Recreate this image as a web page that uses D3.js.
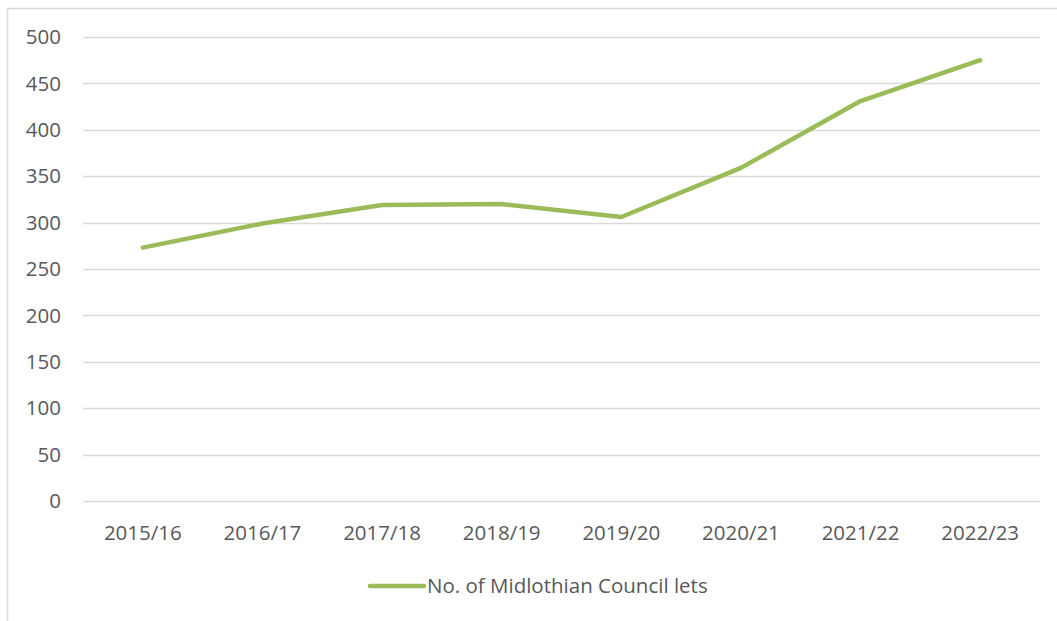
<!DOCTYPE html>
<html>
<head>
<meta charset="utf-8">
<script src="https://cdn.jsdelivr.net/npm/d3@7"></script>
<style>
  body { margin: 0; background: #fff; }
  svg { display: block; font-family: "Open Sans", sans-serif; }
</style>
</head>
<body>
<div id="chart"></div>
<script>
// chart data
const years = ['2015/16', '2016/17', '2017/18', '2018/19', '2019/20', '2020/21', '2021/22', '2022/23']
const lets = [273, 299, 319, 320, 306, 359, 431, 475]
const yTicks = [0, 50, 100, 150, 200, 250, 300, 350, 400, 450, 500]
const seriesName = 'No. of Midlothian Council lets'

const width = 1057, height = 621
const margin = { top: 37, right: 17, bottom: 120, left: 83 }
const fontSize = 20.5

let svg = d3.select('#chart')
    .append('svg')
    .attr('width', width)
    .attr('height', height)

// outer chart border (runs off right/bottom edge)
svg.append('rect')
    .attr('x', 7.5).attr('y', 8.5)
    .attr('width', width + 10).attr('height', height + 10)
    .attr('fill', 'none')
    .attr('stroke', '#d9d9d9')
    .attr('stroke-width', 1.5)

let x = d3.scaleBand()
    .domain(years)
    .range([margin.left, width - margin.right])

let y = d3.scaleLinear()
    .domain([0, 500])
    .range([height - margin.bottom, margin.top])

// gridlines
svg.append('g')
    .selectAll('line')
    .data(yTicks)
    .join('line')
    .attr('x1', margin.left)
    .attr('x2', width - margin.right)
    .attr('y1', d => Math.round(y(d)) + 0.5)
    .attr('y2', d => Math.round(y(d)) + 0.5)
    .attr('stroke', '#d9d9d9')
    .attr('stroke-width', 1.3)

// y axis labels
svg.append('g')
    .selectAll('text')
    .data(yTicks)
    .join('text')
    .attr('x', 61)
    .attr('y', d => y(d))
    .attr('dy', '0.35em')
    .attr('text-anchor', 'end')
    .attr('fill', '#595959')
    .attr('font-size', fontSize)
    .text(d => d)

// x axis labels
svg.append('g')
    .selectAll('text')
    .data(years)
    .join('text')
    .attr('x', d => x(d) + x.bandwidth() / 2)
    .attr('y', height - margin.bottom + 39)
    .attr('text-anchor', 'middle')
    .attr('fill', '#595959')
    .attr('font-size', fontSize)
    .text(d => d)

let line = d3.line()
    .x((d, i) => x(years[i]) + x.bandwidth() / 2)
    .y(d => y(d))

svg.append('path')
    .datum(lets)
    .attr('d', line)
    .attr('fill', 'none')
    .attr('stroke', '#9bbb59')
    .attr('stroke-width', 4.5)
    .attr('stroke-linecap', 'round')
    .attr('stroke-linejoin', 'round')

// legend
let legend = svg.append('g').attr('transform', 'translate(370, 586)')
legend.append('line')
    .attr('x1', 0).attr('x2', 54)
    .attr('stroke', '#9bbb59')
    .attr('stroke-width', 4.5)
    .attr('stroke-linecap', 'round')
legend.append('text')
    .attr('x', 57)
    .attr('dy', '0.35em')
    .attr('fill', '#595959')
    .attr('font-size', fontSize)
    .text(seriesName)
</script>
</body>
</html>
